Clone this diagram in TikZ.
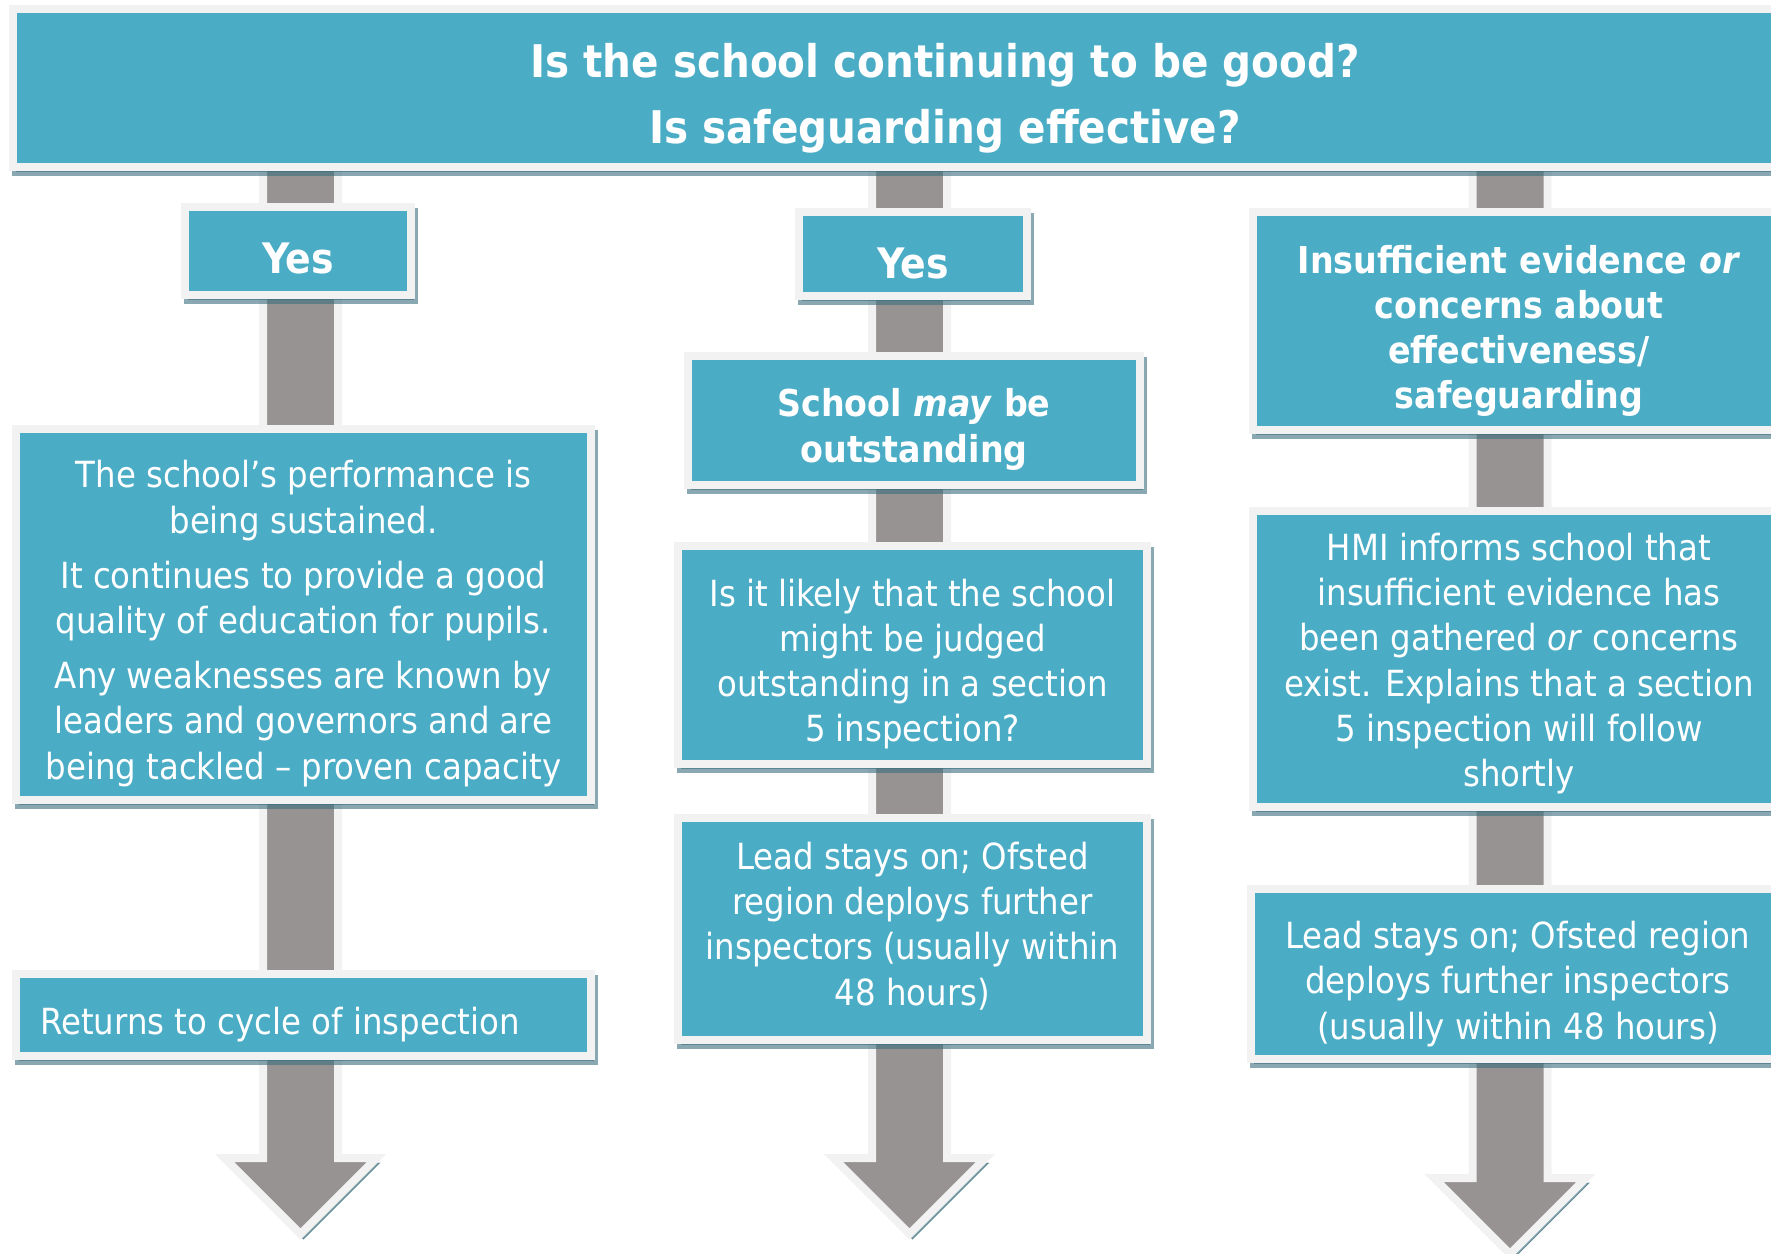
\documentclass[tikz,border=0pt]{standalone}
\usepackage{fontspec}
\setmainfont{DejaVu Sans Condensed}
\usetikzlibrary{calc}

\definecolor{boxteal}{RGB}{75,172,198}
\definecolor{edgegrey}{RGB}{242,242,242}
\definecolor{shaftgrey}{RGB}{152,147,147}
\definecolor{shadowblue}{RGB}{60,110,125}

% block arrow from a top point down to its tip
\newcommand{\flowarrow}[2]{%
  \draw[arrowbody] ($(#1)+(-37.5,0)$) -- ($(#2)+(-37.5,-76)$) -- ($(#2)+(-76,-76)$)
    -- (#2) -- ($(#2)+(76,-76)$) -- ($(#2)+(37.5,-76)$) -- ($(#1)+(37.5,0)$) -- cycle;}

\begin{document}
\begin{tikzpicture}[x=0.5pt,y=-0.5pt,
    shadowed/.style={preaction={draw=shadowblue,fill=shadowblue,opacity=.6,
        transform canvas={shift={(1.5pt,-2.5pt)}}}},
    arrowbody/.style={fill=shaftgrey,draw=edgegrey,line width=4pt,line join=miter,shadowed},
    box/.style={rectangle,fill=boxteal,draw=edgegrey,line width=4pt,inner sep=0pt,shadowed},
    plaintext/.style={text=white,inner sep=0pt,align=center,font=\fontsize{18}{22.6}\selectfont},
    boldtext/.style={plaintext,font=\bfseries\fontsize{18.5}{22.6}\selectfont}]

    \clip (0,0) rectangle (1771,1253);

    % arrows behind the boxes
    \coordinate (topA) at (300.5,90);
    \coordinate (tipA) at (300.5,1234);
    \coordinate (topB) at (909.5,90);
    \coordinate (tipB) at (909.5,1234);
    \coordinate (topC) at (1510,90);
    \coordinate (tipC) at (1510,1254);

    \flowarrow{topA}{tipA}
    \flowarrow{topB}{tipB}
    \flowarrow{topC}{tipC}

    % boxes
    \node[box,minimum width=932pt,minimum height=79pt] (question) at (945,88) {};
    \node[box,minimum width=113pt,minimum height=44pt] (yesA) at (298,251) {};
    \node[box,minimum width=287.5pt,minimum height=185.5pt] (sustained) at (303.5,614.5) {};
    \node[box,minimum width=287.5pt,minimum height=41pt] (cycle) at (303.5,1015) {};
    \node[box,minimum width=114pt,minimum height=42pt] (yesB) at (913,254) {};
    \node[box,minimum width=226pt,minimum height=64.5pt] (maybe) at (914,420.5) {};
    \node[box,minimum width=234.5pt,minimum height=109pt] (likely) at (912.5,655) {};
    \node[box,minimum width=234.5pt,minimum height=111pt] (leadB) at (912.5,929) {};
    \node[box,minimum width=266pt,minimum height=109pt] (concerns) at (1519,321) {};
    \node[box,minimum width=266pt,minimum height=148pt] (informs) at (1519,659) {};
    \node[box,minimum width=267pt,minimum height=85pt] (leadC) at (1518,974) {};

    % texts
    \node[boldtext,font=\bfseries\fontsize{22.5}{32.8}\selectfont] (questiontext) at (945,98)
        {Is the school continuing to be good?\\Is safeguarding effective?};
    \node[boldtext,font=\bfseries\fontsize{21}{25}\selectfont] (yesAtext) at (298,258) {Yes};
    \node[plaintext] (sustainedtext) at (303.5,623.5)
        {The school’s performance is\\being sustained.\\[5pt]
         It continues to provide a good\\quality of education for pupils.\\[5pt]
         Any weaknesses are known by\\leaders and governors and are\\being tackled – proven capacity};
    \node[plaintext,anchor=west] (cycletext) at (40,1025) {Returns to cycle of inspection};

    \node[boldtext,font=\bfseries\fontsize{21}{25}\selectfont] (yesBtext) at (913,263) {Yes};
    \node[boldtext] (maybetext) at (914,429.5) {School \textit{may} be\\outstanding};
    \node[plaintext] (likelytext) at (912.5,664)
        {Is it likely that the school\\might be judged\\outstanding in a section\\5 inspection?};
    \node[plaintext] (leadBtext) at (912.5,926)
        {Lead stays on; Ofsted\\region deploys further\\inspectors (usually within\\48 hours)};

    \node[boldtext] (concernstext) at (1519,331)
        {Insufficient evidence \textit{or}\\concerns about\\effectiveness/\\safeguarding};
    \node[plaintext] (informstext) at (1519,663.5)
        {HMI informs school that\\insufficient evidence has\\been gathered \textit{or} concerns\\
         exist. Explains that a section\\5 inspection will follow\\shortly};
    \node[plaintext] (leadCtext) at (1518,984)
        {Lead stays on; Ofsted region\\deploys further inspectors\\(usually within 48 hours)};

\end{tikzpicture}
\end{document}
